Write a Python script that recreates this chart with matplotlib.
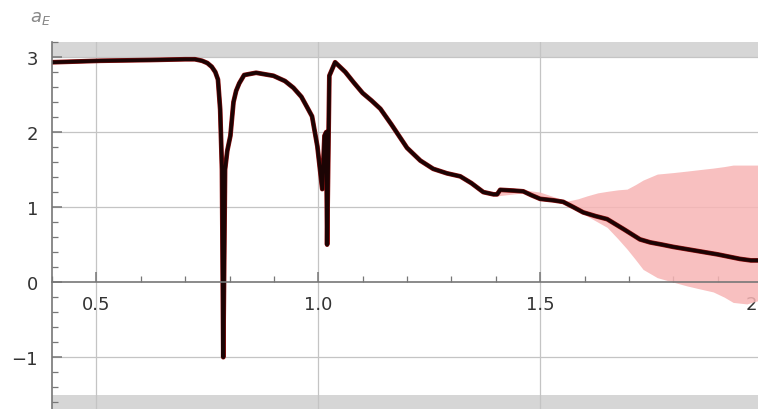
import numpy as np
import matplotlib.pyplot as plt
import matplotlib.transforms as mtransforms
from matplotlib.ticker import MultipleLocator, FixedLocator

# central curve a_E(x)
x = [0.401, 0.509, 0.622, 0.700, 0.722, 0.738, 0.750, 0.760, 0.768, 0.774,
     0.779, 0.783, 0.786, 0.790, 0.795, 0.802, 0.809, 0.815, 0.822, 0.833,
     0.860, 0.899, 0.925, 0.944, 0.962, 0.975, 0.986, 0.998, 1.009, 1.014,
     1.018, 1.020, 1.025, 1.038, 1.061, 1.080, 1.100, 1.120, 1.140, 1.165,
     1.200, 1.230, 1.259, 1.290, 1.320, 1.345, 1.372, 1.395, 1.403, 1.410,
     1.440, 1.462, 1.480, 1.500, 1.530, 1.552, 1.575, 1.597, 1.625, 1.651,
     1.690, 1.725, 1.748, 1.775, 1.800, 1.830, 1.860, 1.900, 1.950, 1.975,
     2.000]
y = [2.93, 2.95, 2.96, 2.97, 2.97, 2.95, 2.92, 2.87, 2.80, 2.70,
     2.30, 1.50, -1.00, 1.50, 1.75, 1.95, 2.40, 2.55, 2.65, 2.76,
     2.79, 2.75, 2.68, 2.59, 2.47, 2.33, 2.21, 1.81, 1.24, 1.95,
     2.00, 0.50, 2.75, 2.93, 2.80, 2.66, 2.52, 2.42, 2.31, 2.10,
     1.79, 1.62, 1.51, 1.45, 1.41, 1.32, 1.20, 1.17, 1.17, 1.23,
     1.22, 1.21, 1.16, 1.11, 1.09, 1.07, 1.00, 0.93, 0.88, 0.84,
     0.70, 0.57, 0.53, 0.50, 0.47, 0.44, 0.41, 0.37, 0.31, 0.29,
     0.29]

# uncertainty band (visible from about 1.4 on)
band_x = [1.403, 1.462, 1.500, 1.535, 1.561, 1.585, 1.606, 1.630, 1.651,
          1.675, 1.696, 1.715, 1.732, 1.764, 1.800, 1.831, 1.860, 1.890,
          1.915, 1.935, 1.966, 2.000]
band_lo = [1.15, 1.19, 1.09, 1.07, 1.03, 0.96, 0.88, 0.80, 0.73,
           0.58, 0.44, 0.30, 0.17, 0.06, 0.00, -0.05, -0.09, -0.13,
           -0.20, -0.27, -0.29, -0.23]
band_hi = [1.20, 1.23, 1.20, 1.13, 1.08, 1.11, 1.15, 1.19, 1.21,
           1.23, 1.24, 1.30, 1.36, 1.44, 1.46, 1.48, 1.50, 1.52,
           1.54, 1.56, 1.56, 1.56]

fig = plt.figure(figsize=(7.58, 4.10), dpi=100)
ax = fig.add_axes([52/758, 0, (762 - 52)/758, (410 - 43)/410])

ax.set_xlim(0.4, 2.0)
ax.set_ylim(-1.69, 3.2)

# shaded out-of-range strips
ax.axhspan(3.0, 3.2, color='#d6d6d6', lw=0, zorder=0)
ax.axhspan(-1.69, -1.5, color='#d6d6d6', lw=0, zorder=0)

for gx in [0.5, 1.0, 1.5, 2.0]:
    ax.axvline(gx, color='#c4c4c4', lw=0.9, zorder=1)
for gy in [-1, 1, 2, 3]:
    ax.axhline(gy, color='#c4c4c4', lw=0.9, zorder=1)

ax.fill_between(band_x, band_lo, band_hi, color='#f7b5b5', alpha=0.85,
                lw=0, zorder=2)
ax.plot(x, y, color='#901212', lw=3.4, zorder=3, solid_joinstyle='round')
ax.plot(x, y, color='#1c0404', lw=2.6, zorder=4, solid_joinstyle='round')

for s in ['top', 'right']:
    ax.spines[s].set_visible(False)
ax.spines['bottom'].set_position(('data', 0))
ax.spines['left'].set_position(('data', 0.4))
for s in ['bottom', 'left']:
    ax.spines[s].set_color('#777777')
    ax.spines[s].set_linewidth(1.2)
    ax.spines[s].set_zorder(5)

ax.xaxis.set_major_locator(FixedLocator([0.5, 1.0, 1.5, 2.0]))
ax.set_xticklabels(['0.5', '1.0', '1.5', '2'])
ax.xaxis.set_minor_locator(MultipleLocator(0.1))
ax.yaxis.set_major_locator(FixedLocator([-1, 0, 1, 2, 3]))
ax.set_yticklabels(['\u22121', '0', '1', '2', '3'])
ax.yaxis.set_minor_locator(MultipleLocator(0.2))

ax.tick_params(which='both', direction='in', colors='#777777',
               labelcolor='#333333', labelsize=13)
ax.tick_params(which='major', length=7, width=1.1)
ax.tick_params(which='minor', length=4, width=0.9)
ax.tick_params(axis='x', pad=9)
ax.tick_params(axis='y', pad=10)

# last x label sits at the right edge, pull it inside the figure
last = ax.get_xticklabels()[-1]
last.set_horizontalalignment('right')
last.set_transform(last.get_transform() +
                   mtransforms.ScaledTranslation(-5/100, 0, fig.dpi_scale_trans))

fig.text(30/758, 1 - 18/410, r'$a_E$', color='#888888', fontsize=13,
         va='center', ha='left')

fig.savefig('out.png', dpi=100)
